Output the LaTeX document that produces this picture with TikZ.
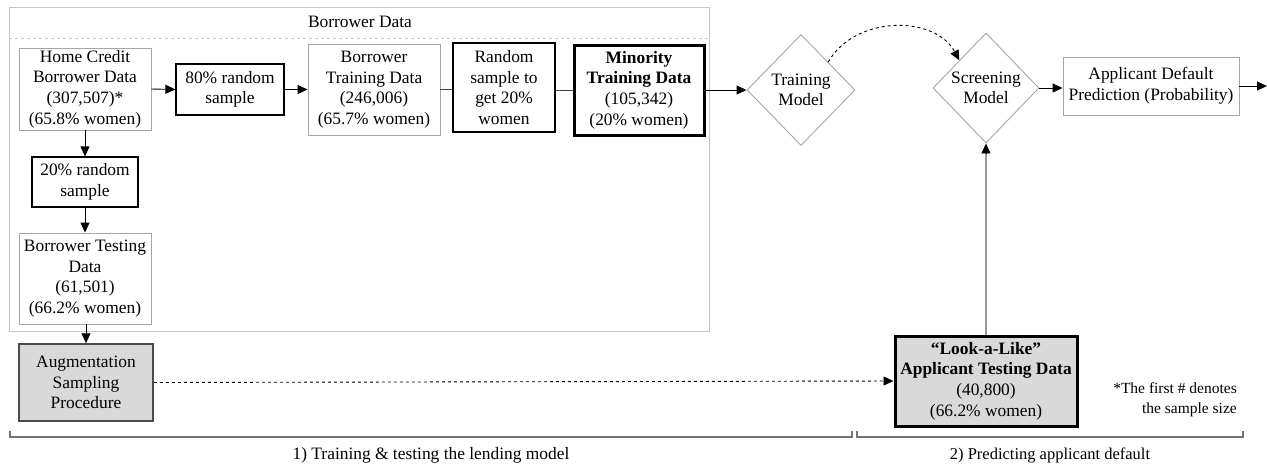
\documentclass[tikz,border=0pt]{standalone}
\usepackage{fontspec}
\setmainfont{Liberation Serif}
\usetikzlibrary{arrows.meta,shapes.geometric}
\definecolor{boxfill}{HTML}{D9D9D9}
\definecolor{lightline}{HTML}{A6A6A6}
\definecolor{frameline}{HTML}{C8C8C8}
\begin{document}
\begin{tikzpicture}[x=1pt,y=-1pt,
  every node/.style={font=\fontsize{17.4}{20.6}\selectfont, align=center, inner sep=1pt},
  graybox/.style={draw=lightline, line width=0.9pt, rectangle},
  blackbox/.style={draw=black, line width=1.2pt, rectangle},
  thickbox/.style={draw=black, line width=3pt, rectangle},
  shadebox/.style={fill=boxfill},
  dmd/.style={draw=lightline, line width=0.9pt, diamond, inner sep=0pt},
  arr/.style={line width=0.9pt, -{Triangle[length=10pt,width=9pt]}},
  conn/.style={line width=0.9pt, draw=black!75},
  brace/.style={draw=black!55, line width=1.2pt}
]
\useasboundingbox (0,0) rectangle (1267,466);
% container
\draw[draw=frameline, line width=0.8pt] (9,7) rectangle (709,331);
\draw[draw=frameline, line width=0.8pt, dashed] (9,38) -- (709,38);
\node (hdr) at (360,22) {Borrower Data};

% nodes
\node[graybox, minimum width=132pt, minimum height=82pt] (home) at (85,89)
  {Home Credit\\Borrower Data\\(307,507)*\\(65.8\% women)};
\node[blackbox, minimum width=108pt, minimum height=51pt] (s80) at (230,89.5)
  {80\% random\\sample};
\node[graybox, minimum width=132pt, minimum height=91pt] (btd) at (374,89.5)
  {Borrower\\Training Data\\(246,006)\\(65.7\% women)};
\node[blackbox, minimum width=102pt, minimum height=89pt] (rs) at (504,87.5)
  {Random\\sample to\\get 20\%\\women};
\node[thickbox, minimum width=130pt, minimum height=90pt] (mino) at (639,90)
  {\textbf{Minority}\\\textbf{Training Data}\\(105,342)\\(20\% women)};
\node[dmd, minimum width=108pt, minimum height=111pt] (train) at (801,90)
  {Training\\Model};
\node[dmd, minimum width=106pt, minimum height=110pt] (screen) at (986,88)
  {Screening\\Model};
\node[graybox, minimum width=176pt, minimum height=58pt] (pred) at (1151,86)
  {Applicant Default\\Prediction (Probability)};
\coordinate (predout) at (1267,86);
\node[blackbox, minimum width=106pt, minimum height=50pt] (s20) at (85,182)
  {20\% random\\sample};
\node[graybox, minimum width=132pt, minimum height=91pt] (btest) at (85,278.5)
  {Borrower Testing\\Data\\(61,501)\\(66.2\% women)};
\node[shadebox, draw=black!70, line width=1.5pt, minimum width=134pt, minimum height=77pt] (aug) at (86,382.5)
  {Augmentation\\Sampling\\Procedure};
\node[shadebox, thickbox, minimum width=182pt, minimum height=90pt] (look) at (986,381)
  {\textbf{“Look-a-Like”}\\\textbf{Applicant Testing Data}\\(40,800)\\(66.2\% women)};

% connectors
\draw[arr] (home.east) -- (s80.west);
\draw[arr] (s80.east) -- (btd.west);
\draw[conn] (btd.east) -- (rs.west |- btd.east);
\draw[conn] (rs.east |- mino.west) -- (mino.west);
\draw[arr] (mino.east) -- (train.west);
\draw[arr, dashed] (train.north east) .. controls (855,15) and (935,15) .. (screen.north west);
\draw[arr] (screen.east) -- (pred.west |- screen.east);
\draw[arr] (pred.east) -- (predout);
\draw[arr] (home.south) -- (s20.north);
\draw[arr] (s20.south) -- (btest.north);
\draw[arr] (btest.south -| aug.north) -- (aug.north);
\draw[arr, dashed] (aug.east) -- (look.west);
\coordinate (upend) at ([yshift=-10pt]screen.south);
\draw[line width=1.3pt, draw=black!40] (look.north) -- (upend);
\draw[arr] (upend) -- (screen.south);

% brackets
\coordinate (b1a) at (10,431);
\coordinate (b1b) at (852,431);
\coordinate (b2a) at (857,431);
\coordinate (b2b) at (1243,431);
\draw[brace] (b1a) -- ++(0,6) -| (b1b);
\draw[brace] (b2a) -- ++(0,6) -| (b2b);
\node (lab1) at (431,455) {1) Training \& testing the lending model};
\node[font=\fontsize{16.5}{19.5}\selectfont] (lab2) at (1050,455) {2) Predicting applicant default};
\node[font=\fontsize{15.5}{20}\selectfont, align=right, anchor=east] (note) at (1238,400)
  {*The first \# denotes\\the sample size};
\end{tikzpicture}
\end{document}
